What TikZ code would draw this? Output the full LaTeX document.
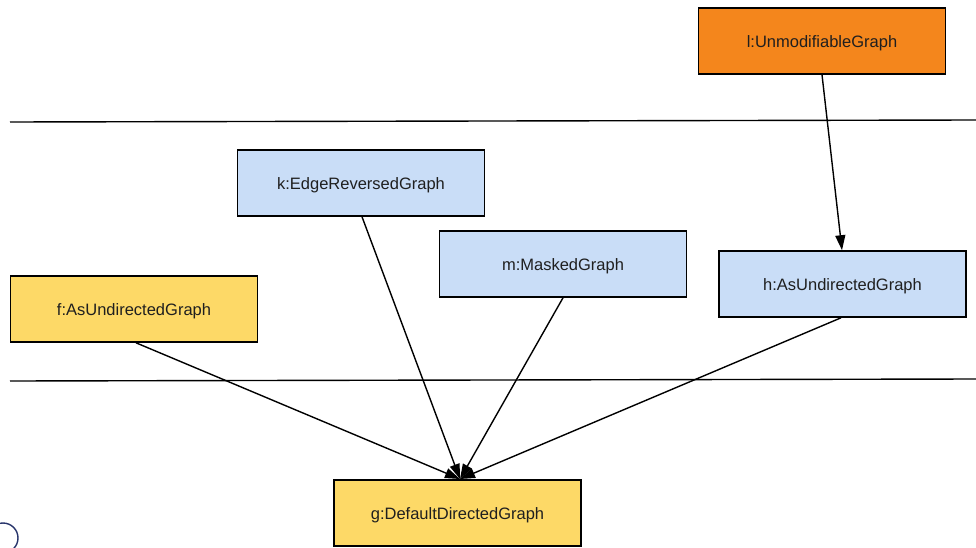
\documentclass[tikz,border=0pt]{standalone}
\usepackage{fontspec}
\setmainfont{Liberation Sans}
\usetikzlibrary{arrows.meta}
\definecolor{orangebox}{HTML}{F4861C}
\definecolor{bluebox}{HTML}{C9DDF7}
\definecolor{yellowbox}{HTML}{FDD967}
\definecolor{logoblue}{HTML}{27346B}
\tikzset{
  box/.style={draw=black, line width=1.6pt, minimum width=247pt, minimum height=66pt, inner sep=0pt, text height=13pt, text depth=0pt, font=\fontsize{16.5}{19}\selectfont, text=black!88},
  orangenode/.style={box, fill=orangebox},
  bluenode/.style={box, fill=bluebox},
  yellownode/.style={box, fill=yellowbox},
  conn/.style={draw=black, line width=1.4pt, -{Triangle[length=15pt,width=10pt]}},
  sep/.style={draw=black, line width=1.4pt}
}
\begin{document}
\begin{tikzpicture}[x=1pt,y=-1pt]
\useasboundingbox (0,0) rectangle (976,548);
\fill[white] (0,0) rectangle (976,548);
% separator lines
\coordinate (s1a) at (10,122);
\coordinate (s1b) at (976,120);
\coordinate (s2a) at (10,381);
\coordinate (s2b) at (976,379);
\draw[sep] (s1a) -- (s1b);
\draw[sep] (s2a) -- (s2b);
% nodes
\node[orangenode] (l) at (822,41) {l:UnmodifiableGraph};
\node[bluenode] (k) at (361,183) {k:EdgeReversedGraph};
\node[bluenode] (m) at (563,264) {m:MaskedGraph};
\node[bluenode] (h) at (842.5,284) {h:AsUndirectedGraph};
\node[yellownode] (f) at (134,309) {f:AsUndirectedGraph};
\node[yellownode] (g) at (457.5,513) {g:DefaultDirectedGraph};
% connectors
\coordinate (gt) at (460,479);
\draw[conn] (l.south -| 822,0) -- (h.north -| 842,0);
\draw[conn] (f.south -| 136,0) -- (gt);
\draw[conn] (k.south -| 362,0) -- (gt);
\draw[conn] (m.south -| 563,0) -- (gt);
\draw[conn] (h.south -| 841,0) -- (gt);
% logo fragment
\node[draw=logoblue, line width=1.4pt, circle, minimum size=30pt, inner sep=0pt] (logo) at (3,538) {};
\end{tikzpicture}
\end{document}
